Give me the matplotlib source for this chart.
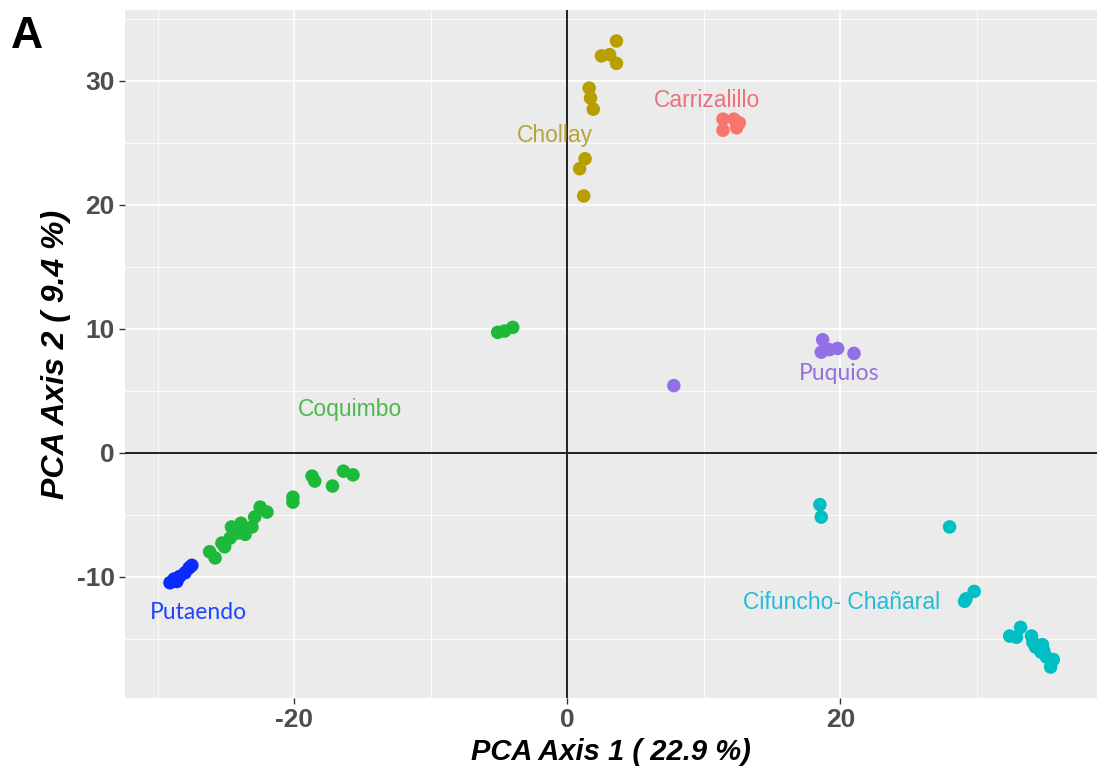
import matplotlib
matplotlib.use("Agg")
import matplotlib.pyplot as plt
from matplotlib.ticker import MultipleLocator

plt.rcParams["axes.unicode_minus"] = False

# PCA scores per population (Axis 1, Axis 2)
carrizalillo_x = [11.4, 12.2, 11.4, 12.4, 12.6]
carrizalillo_y = [26.9, 26.9, 26.0, 26.2, 26.6]

chollay_x = [3.6, 2.5, 3.1, 3.6, 1.6, 1.7, 1.9, 1.3, 0.9, 1.2]
chollay_y = [33.2, 32.0, 32.1, 31.4, 29.4, 28.6, 27.7, 23.7, 22.9, 20.7]

coquimbo_x = [-5.1, -4.6, -4.0,
              -16.4, -15.7, -17.2, -18.7, -18.5, -20.1, -20.1,
              -22.5, -22.0, -22.9, -23.1, -23.9, -24.2, -24.6, -24.7,
              -25.1, -25.3, -25.8, -26.2, -23.6]
coquimbo_y = [9.7, 9.8, 10.1,
              -1.5, -1.8, -2.7, -1.9, -2.3, -3.6, -4.0,
              -4.4, -4.8, -5.2, -6.0, -5.7, -6.5, -6.0, -6.9,
              -7.6, -7.3, -8.5, -8.0, -6.6]

putaendo_x = [-29.1, -28.8, -28.4, -28.0, -27.7, -27.5, -28.6]
putaendo_y = [-10.5, -10.2, -10.0, -9.7, -9.3, -9.1, -10.4]

puquios_x = [7.8, 18.7, 18.6, 19.2, 19.8, 21.0]
puquios_y = [5.4, 9.1, 8.1, 8.3, 8.4, 8.0]

cifuncho_x = [18.5, 18.6, 28.0, 29.8, 29.1, 29.2,
              32.4, 32.9, 33.2, 34.0, 34.1, 34.3, 34.8, 34.9, 34.7,
              35.1, 35.6, 35.4, 34.5]
cifuncho_y = [-4.2, -5.2, -6.0, -11.2, -12.0, -11.8,
              -14.8, -14.9, -14.1, -14.8, -15.3, -15.7, -15.5, -16.0, -16.1,
              -16.5, -16.7, -17.3, -15.6]

groups = [
    ("Carrizalillo", carrizalillo_x, carrizalillo_y, "#F8766D", "#E8737E", (10.2, 28.4), "Liberation Sans"),
    ("Chollay", chollay_x, chollay_y, "#B79F00", "#B8A33C", (-0.9, 25.6), "Liberation Sans"),
    ("Coquimbo", coquimbo_x, coquimbo_y, "#1DBA3A", "#4DB84D", (-15.9, 3.5), "Liberation Sans"),
    ("Putaendo", putaendo_x, putaendo_y, "#0A2BFF", "#2244FF", (-27.0, -12.9), "Lato"),
    ("Puquios", puquios_x, puquios_y, "#9370E8", "#9370DB", (19.9, 6.4), "Lato"),
    ("Cifuncho- Chañaral", cifuncho_x, cifuncho_y, "#00BFC4", "#22BBD5", (20.1, -12.1), "Liberation Sans"),
]

fig = plt.figure(figsize=(11.05, 7.76), dpi=100)
ax = fig.add_axes([0.1131, 0.1005, 0.8797, 0.8866])
ax.set_facecolor("#EBEBEB")
ax.set_xlim(-32.4, 38.8)
ax.set_ylim(-19.8, 35.7)

ax.xaxis.set_major_locator(MultipleLocator(20))
ax.xaxis.set_minor_locator(MultipleLocator(10))
ax.yaxis.set_major_locator(MultipleLocator(10))
ax.yaxis.set_minor_locator(MultipleLocator(5))
ax.grid(which="major", color="white", linewidth=1.2, zorder=0)
ax.grid(which="minor", color="white", linewidth=0.6, zorder=0)
ax.set_axisbelow(True)
for s in ax.spines.values():
    s.set_visible(False)

ax.axhline(0, color="#222222", linewidth=1.4, zorder=1)
ax.axvline(0, color="#222222", linewidth=1.4, zorder=1)

for name, xs, ys, pc, tc, (lx, ly), fam in groups:
    ax.scatter(xs, ys, s=95, color=pc, edgecolors="none", zorder=3)
    ax.text(lx, ly, name, color=tc, fontsize=16.5, family=fam,
            ha="center", va="center", zorder=4)

ax.tick_params(which="major", length=4, width=1, color="#333333",
               labelsize=19, labelcolor="#4D4D4D")
ax.tick_params(which="minor", length=0)
for lab in ax.get_xticklabels() + ax.get_yticklabels():
    lab.set_fontweight("bold")
    lab.set_family("Liberation Sans")

ax.set_xlabel("PCA Axis 1 ( 22.9 %)", fontsize=21, fontweight="bold",
              fontstyle="italic", family="Liberation Sans", labelpad=4)
ax.set_ylabel("PCA Axis 2 ( 9.4 %)", fontsize=23, fontweight="bold",
              fontstyle="italic", family="Liberation Sans", labelpad=4)

fig.text(0.010, 0.953, "A", fontsize=32, fontweight="bold",
         family="Liberation Sans", color="black", va="center")

fig.savefig("out.png", dpi=100)
